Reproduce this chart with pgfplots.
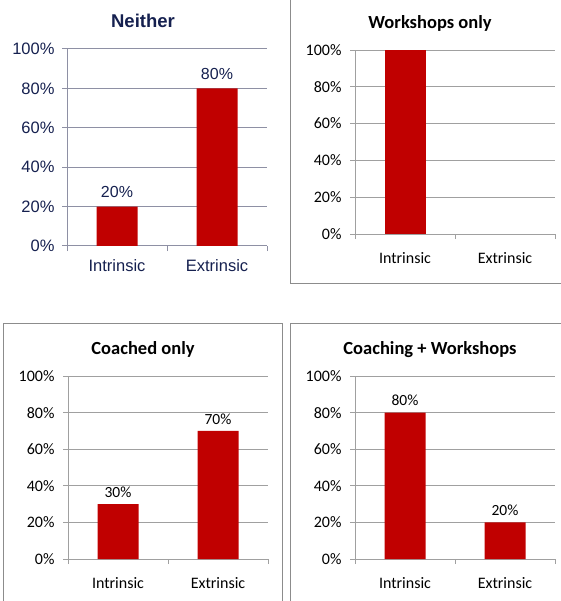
\documentclass[border=0pt]{standalone}
\usepackage{pgfplots}
\pgfplotsset{compat=1.18}
\usepackage{fontspec}
\setmainfont{Carlito}
\newfontfamily\arial{Liberation Sans}
\definecolor{barred}{HTML}{C00000}
\definecolor{navy}{HTML}{15204F}
\definecolor{navygrid}{HTML}{8E90A4}
\definecolor{xlgrid}{HTML}{A0A0A0}
\definecolor{boxgray}{HTML}{8C8C8C}
\pgfplotsset{
  panel/.style={
    scale only axis, width=200pt,
    xmin=-0.5, xmax=1.5, ymin=0, ymax=100,
    axis x line*=bottom, axis y line*=left,
    xtick={0,1}, xticklabels={Intrinsic,Extrinsic},
    major x tick style={draw=none},
    minor xtick={-0.5,0.5,1.5},
    minor x tick style={line width=0.8pt},
    minor tick length=5pt,
    ytick={0,20,40,60,80,100},
    yticklabels={0\%,20\%,40\%,60\%,80\%,100\%},
    major tick length=5pt,
    tick align=outside,
    ymajorgrids,
    xtick pos=bottom, ytick pos=left,
    ybar, bar width=41pt,
    point meta=explicit symbolic,
    nodes near coords,
    every node near coord/.append style={font=\fontsize{15.5}{17}\selectfont, yshift=3pt},
    clip=false,
  },
  xlpanel/.style={panel,
    axis line style={xlgrid, line width=0.8pt},
    major grid style={xlgrid, line width=0.8pt},
    tick style={xlgrid, line width=0.8pt},
    tick label style={font=\fontsize{16}{18}\selectfont, black},
    xticklabel style={yshift=-10pt},
    yticklabel style={xshift=-5pt},
    title style={font=\bfseries\fontsize{18.5}{20}\selectfont, yshift=9pt, xshift=-25pt},
  },
}
\begin{document}
\begin{tikzpicture}
\path[use as bounding box] (0pt,0pt) rectangle (560pt,-601pt);
% panel frames
\draw[boxgray, line width=0.9pt] (290.5pt,2pt) -- (290.5pt,-283pt) -- (580pt,-283pt);
\draw[boxgray, line width=0.9pt] (3pt,-620pt) -- (3pt,-323pt) -- (282pt,-323pt) -- (282pt,-620pt);
\draw[boxgray, line width=0.9pt] (290pt,-620pt) -- (290pt,-323pt) -- (580pt,-323pt);

% Panel 1: Neither
\begin{axis}[panel, at={(67pt,-246pt)}, anchor=south west, height=197pt,
  axis line style={navygrid, line width=1pt},
  major grid style={navygrid, line width=1pt},
  tick style={navygrid, line width=1pt},
  tick label style={font=\arial\fontsize{16.5}{18}\selectfont, navy},
  xticklabel style={yshift=-5pt},
  yticklabel style={xshift=-4pt},
  every node near coord/.append style={font=\arial\fontsize{16}{18}\selectfont, navy, yshift=2pt},
  title={Neither},
  title style={font=\arial\bfseries\fontsize{18.5}{20}\selectfont, navy, yshift=12pt, xshift=-24pt},
]
\addplot[fill=barred, draw=none] coordinates {(0,20) [20\%] (1,80) [80\%]};
\end{axis}

% Panel 2: Workshops only
\begin{axis}[xlpanel, at={(355pt,-234pt)}, anchor=south west, height=184pt,
  title={Workshops only}, nodes near coords={}]
\addplot[fill=barred, draw=none] coordinates {(0,100) []};
\end{axis}

% Panel 3: Coached only
\begin{axis}[xlpanel, at={(68pt,-559pt)}, anchor=south west, height=183pt,
  title={Coached only}]
\addplot[fill=barred, draw=none] coordinates {(0,30) [30\%] (1,70) [70\%]};
\end{axis}

% Panel 4: Coaching + Workshops
\begin{axis}[xlpanel, at={(355pt,-559pt)}, anchor=south west, height=183pt,
  title={Coaching + Workshops}]
\addplot[fill=barred, draw=none] coordinates {(0,80) [80\%] (1,20) [20\%]};
\end{axis}
\end{tikzpicture}
\end{document}
